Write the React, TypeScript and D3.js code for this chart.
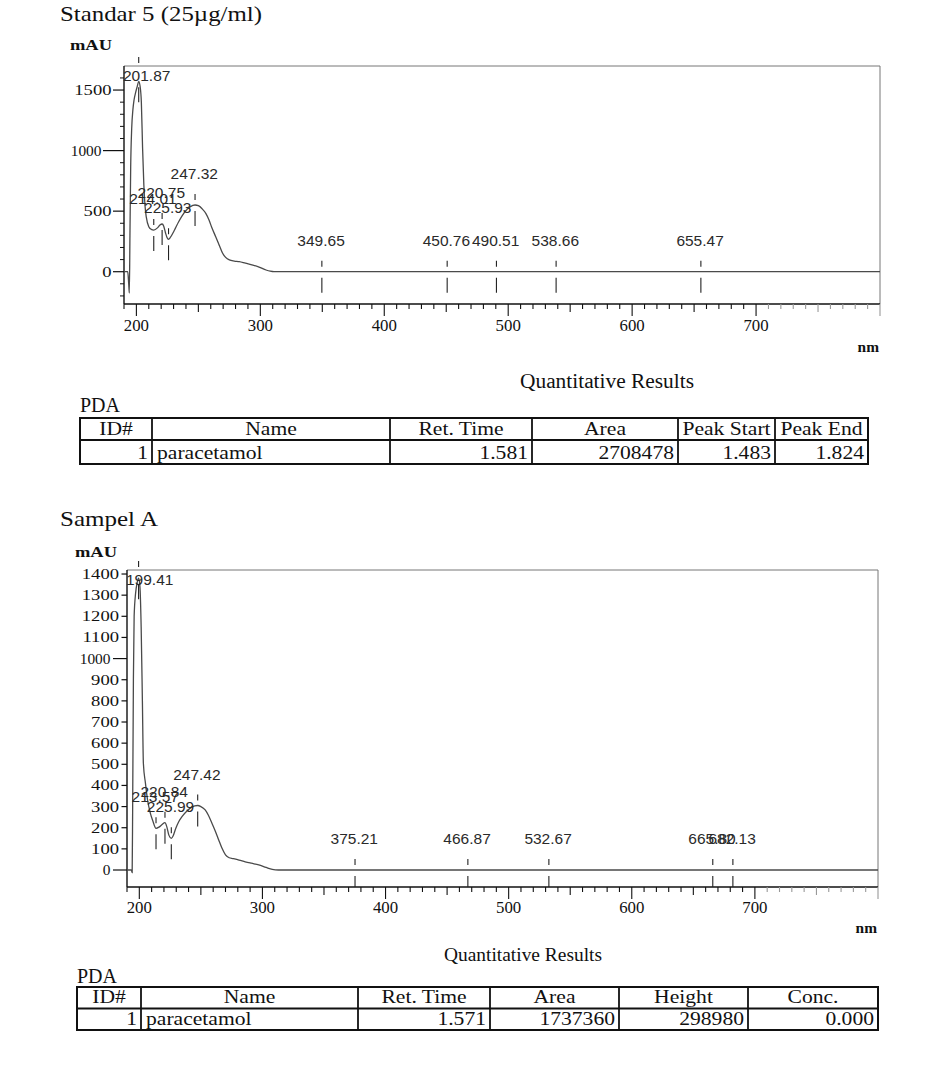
import React from "react";
import * as d3 from "d3";

// ---------- DATA ----------
const TOP_TITLE = "Standar 5 (25µg/ml)";
const BOTTOM_TITLE = "Sampel A";
const TABLE_TITLE = "Quantitative Results";
const DETECTOR = "PDA";
const Y_UNIT = "mAU";
const X_UNIT = "nm";

const X_TICK_LABELS = [200, 300, 400, 500, 600, 700];

const TOP_WAVELENGTH = [
  190, 193, 193.8, 194.3, 194.8, 195.4, 196.2, 197.2, 198.1, 199.4, 200.7, 201.87,
  203, 204, 205, 206, 207, 208, 210, 212, 214.01, 217, 219, 220.75, 222, 223.5,
  224.7, 225.93, 227.5, 229.5, 231.5, 234, 237, 240, 243, 245.5, 247.32, 250, 253,
  256, 258.6, 261, 264, 267, 269.6, 272, 275, 279, 283, 288, 294, 299, 304.6, 308,
  311, 400, 500, 600, 700, 800,
];
const TOP_ABSORBANCE = [
  0, 0, -100, -176, 300, 867, 1180, 1340, 1418, 1480, 1530, 1572,
  1530, 1400, 1020, 720, 540, 450, 372, 350, 344, 362, 385, 394, 378, 320,
  283, 268, 285, 320, 360, 410, 463, 505, 532, 547, 551, 545, 520,
  482, 427, 360, 289, 215, 152, 118, 97, 88, 83, 70, 55, 38, 14, 4,
  0, 0, 0, 0, 0, 0,
];
const TOP_PEAKS = [201.87, 214.01, 220.75, 225.93, 247.32, 349.65, 450.76, 490.51, 538.66, 655.47];
const TOP_Y_TICK_LABELS = [0, 500, 1000, 1500];

const BOTTOM_WAVELENGTH = [
  190, 193.5, 194.2, 194.6, 195.2, 195.8, 197, 198.3, 199.41, 200.5, 201.5, 202.5,
  203.3, 205, 206.7, 209, 211, 213.57, 216, 218.5, 220.84, 222.3, 224, 225.99, 227.5,
  229.5, 232, 235, 238.5, 242, 245, 247.42, 250, 253.5, 256, 259, 262, 264.5, 267,
  270, 273, 276, 281, 286, 291, 297, 303, 308, 313, 400, 500, 600, 700, 800,
];
const BOTTOM_ABSORBANCE = [
  0, 0, -12, 300, 900, 1200, 1310, 1360, 1380, 1340, 1150, 800,
  505, 410, 331, 268, 232, 197, 203, 215, 224, 205, 165, 150, 162,
  195, 228, 255, 278, 295, 303, 305, 300, 284, 260, 221, 180, 142, 105,
  72, 58, 54, 47, 39, 32, 24, 12, 3, 0, 0, 0, 0, 0, 0,
];
const BOTTOM_PEAKS = [199.41, 213.57, 220.84, 225.99, 247.42, 375.21, 466.87, 532.67, 665.8, 682.13];
const BOTTOM_Y_TICK_LABELS = [0, 100, 200, 300, 400, 500, 600, 700, 800, 900, 1000, 1100, 1200, 1300, 1400];

const TOP_TABLE_HEADERS = ["ID#", "Name", "Ret. Time", "Area", "Peak Start", "Peak End"];
const TOP_TABLE_ROW = ["1", "paracetamol", "1.581", "2708478", "1.483", "1.824"];
const BOTTOM_TABLE_HEADERS = ["ID#", "Name", "Ret. Time", "Area", "Height", "Conc."];
const BOTTOM_TABLE_ROW = ["1", "paracetamol", "1.571", "1737360", "298980", "0.000"];

// ---------- HELPERS ----------
const SERIF = "'Liberation Serif', 'Times New Roman', serif";
const SANS = "'Liberation Sans', Arial, sans-serif";
const INK = "#111";

function T({ x, y, sx = 1, anchor = "start", size = 16, family = SERIF, weight = "normal", fill = INK, children, ...rest }: any) {
  return (
    <text
      transform={`translate(${x},${y}) scale(${sx},1)`}
      textAnchor={anchor}
      fontSize={size}
      fontFamily={family}
      fontWeight={weight}
      fill={fill}
      {...rest}
    >
      {children}
    </text>
  );
}

function Spectrum({ wl, ab, peaks, yLabels, longTicks, L }: any) {
  const x = d3.scaleLinear().domain([190, 800]).range([L.left, L.right]);
  const y = d3.scaleLinear().domain(L.yDomain).range([L.bottom, L.top]);
  const pts: [number, number][] = wl.map((w: number, i: number) => [w, ab[i]]);
  const path = d3
    .line<[number, number]>()
    .x((d) => x(d[0]))
    .y((d) => y(d[1]))
    .curve(d3.curveMonotoneX)(pts) as string;

  const valueAt = (w: number) => {
    const i = d3.bisectRight(wl, w);
    if (i <= 0) return ab[0];
    if (i >= wl.length) return ab[ab.length - 1];
    const t = (w - wl[i - 1]) / (wl[i] - wl[i - 1]);
    return ab[i - 1] + t * (ab[i] - ab[i - 1]);
  };

  const xMinor = d3.range(190, 801, 10);
  const yMinor = L.minorStep
    ? d3.range(Math.ceil(L.yDomain[0] / L.minorStep) * L.minorStep, L.yDomain[1], L.minorStep).filter((v: number) => !yLabels.includes(v))
    : [];

  return (
    <g>
      <T x={L.titleX} y={L.titleY} size={22} textLength={L.titleW} lengthAdjust="spacingAndGlyphs">
        {L.title}
      </T>
      <T x={L.unitX} y={L.unitY} size={14} weight="bold" textLength={42} lengthAdjust="spacingAndGlyphs">
        {Y_UNIT}
      </T>
      {/* frame */}
      <line x1={L.left} x2={L.right} y1={L.top} y2={L.top} stroke="#777" strokeWidth={1} />
      <line x1={L.right} x2={L.right} y1={L.top} y2={L.bottom} stroke="#777" strokeWidth={1} />
      <line x1={L.left} x2={L.left} y1={L.top} y2={L.bottom} stroke={INK} strokeWidth={1.4} />
      <line x1={L.left} x2={L.right} y1={L.bottom} y2={L.bottom} stroke={INK} strokeWidth={1.4} />

      {/* y minor ticks */}
      {yMinor.map((v: number) => (
        <line key={"ym" + v} x1={L.left - L.minorLen} x2={L.left} y1={y(v)} y2={y(v)} stroke={INK} strokeWidth={1} />
      ))}
      {/* y labelled ticks */}
      {yLabels.map((v: number) => {
        const isLong = longTicks.includes(v);
        const len = isLong ? L.longLen : L.tickLen;
        const endX = L.left - len - L.labelGap;
        return (
          <g key={"yl" + v}>
            <line x1={L.left - len} x2={L.left} y1={y(v)} y2={y(v)} stroke={INK} strokeWidth={1.2} />
            <T x={endX} y={y(v) + 5} sx={isLong ? 1.1 : 1.33} anchor="end" size={14}>
              {String(v)}
            </T>
          </g>
        );
      })}

      {/* x ticks */}
      {xMinor.map((v: number) => {
        const len = v % 100 === 0 ? 12 : v % 50 === 0 ? 8 : 5;
        return (
          <line
            key={"xm" + v}
            x1={x(v)}
            x2={x(v)}
            y1={L.bottom}
            y2={L.bottom + len}
            stroke={v > 700 ? "#999" : INK}
            strokeWidth={1.1}
          />
        );
      })}
      {X_TICK_LABELS.map((v) => (
        <T key={"xl" + v} x={x(v)} y={L.xLabelY} anchor="middle" size={16} sx={1.05}>
          {String(v)}
        </T>
      ))}
      <T x={L.right - 1} y={L.nmY} anchor="end" size={14} weight="bold" sx={1.1}>
        {X_UNIT}
      </T>

      {/* spectrum */}
      <path d={path} fill="none" stroke="#4a4a4a" strokeWidth={1.3} />

      {/* peak markers */}
      {peaks.map((p: number) => {
        const px = x(p);
        const cy = y(valueAt(p));
        let base = cy - 26;
        let s1 = cy - 11;
        let s2 = cy - 5;
        if (base < L.top + 15) {
          base = L.top + 15;
          s1 = L.top - 9;
          s2 = L.top - 3;
        }
        const halfW = 24.5;
        const startX = Math.max(px - halfW, L.left - 1);
        return (
          <g key={"pk" + p}>
            <line x1={px} x2={px} y1={s1} y2={s2} stroke="#222" strokeWidth={1.1} />
            <line x1={px} x2={px} y1={cy + 6} y2={Math.min(cy + 21, L.bottom)} stroke="#222" strokeWidth={1.1} />
            <T x={startX} y={base} size={15.5} family={SANS} fill="#2a2a2a">
              {p.toFixed(2)}
            </T>
          </g>
        );
      })}
    </g>
  );
}

function ResultTable({ headers, row, L }: any) {
  const cols: number[] = L.cols;
  const align = ["end", "start", "end", "end", "end", "end"];
  return (
    <g>
      <T x={L.qX} y={L.qY} size={L.qSize} textLength={L.qW} lengthAdjust="spacingAndGlyphs">
        {TABLE_TITLE}
      </T>
      <T x={cols[0]} y={L.pdaY} size={20} textLength={40} lengthAdjust="spacingAndGlyphs">
        {DETECTOR}
      </T>
      <rect x={cols[0]} y={L.y0} width={cols[cols.length - 1] - cols[0]} height={L.y2 - L.y0} fill="none" stroke={INK} strokeWidth={2} />
      <line x1={cols[0]} x2={cols[cols.length - 1]} y1={L.y1} y2={L.y1} stroke={INK} strokeWidth={2} />
      {cols.slice(1, -1).map((c) => (
        <line key={"c" + c} x1={c} x2={c} y1={L.y0} y2={L.y2} stroke={INK} strokeWidth={1.8} />
      ))}
      {headers.map((h: string, i: number) => (
        <T key={"h" + i} x={(cols[i] + cols[i + 1]) / 2} y={L.y1 - 5.5} anchor="middle" size={18} sx={1.2}>
          {h}
        </T>
      ))}
      {row.map((v: string, i: number) => (
        <T
          key={"r" + i}
          x={align[i] === "end" ? cols[i + 1] - 4 : cols[i] + 5}
          y={L.y2 - 5.5}
          anchor={align[i]}
          size={18}
          sx={1.2}
        >
          {v}
        </T>
      ))}
    </g>
  );
}

export default function App() {
  const topLayout = {
    left: 124, right: 880, top: 66, bottom: 304, yDomain: [-266.7, 1698.6],
    minorStep: 100, minorLen: 4, tickLen: 11, longLen: 21, labelGap: 1.5,
    xLabelY: 331, nmY: 352, unitX: 70, unitY: 50,
    title: TOP_TITLE, titleX: 60, titleY: 21, titleW: 202,
  };
  const bottomLayout = {
    left: 127, right: 878, top: 570, bottom: 887, yDomain: [-80.4, 1419],
    minorStep: 0, minorLen: 0, tickLen: 5.5, longLen: 14, labelGap: 2.5,
    xLabelY: 913, nmY: 933, unitX: 75, unitY: 556.5,
    title: BOTTOM_TITLE, titleX: 60, titleY: 526, titleW: 98,
  };
  const topTable = {
    cols: [80, 152, 390, 532, 678, 775, 868], y0: 418, y1: 440, y2: 464,
    qX: 520, qY: 388, qW: 174, qSize: 20, pdaY: 411.5,
  };
  const bottomTable = {
    cols: [77, 141, 358, 490, 619, 748, 878], y0: 987, y1: 1008.5, y2: 1030,
    qX: 444, qY: 961, qW: 158, qSize: 19, pdaY: 983,
  };
  return (
    <svg width={941} height={1067} style={{ position: "absolute", left: 0, top: 0, background: "#fff" }}>
      <rect x={0} y={0} width={941} height={1067} fill="#fff" />
      <Spectrum wl={TOP_WAVELENGTH} ab={TOP_ABSORBANCE} peaks={TOP_PEAKS} yLabels={TOP_Y_TICK_LABELS} longTicks={[1000]} L={topLayout} />
      <ResultTable headers={TOP_TABLE_HEADERS} row={TOP_TABLE_ROW} L={topTable} />
      <Spectrum wl={BOTTOM_WAVELENGTH} ab={BOTTOM_ABSORBANCE} peaks={BOTTOM_PEAKS} yLabels={BOTTOM_Y_TICK_LABELS} longTicks={[0, 1000]} L={bottomLayout} />
      <ResultTable headers={BOTTOM_TABLE_HEADERS} row={BOTTOM_TABLE_ROW} L={bottomTable} />
    </svg>
  );
}
